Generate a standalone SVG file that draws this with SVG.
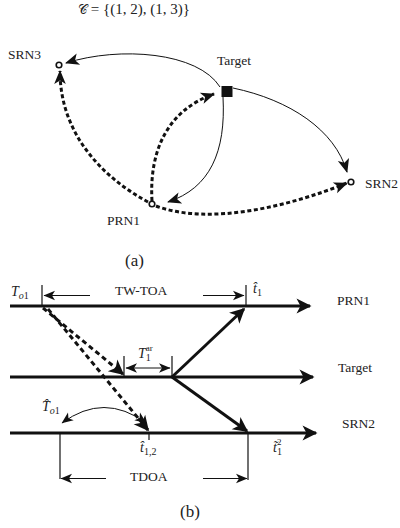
<svg xmlns="http://www.w3.org/2000/svg" width="400" height="528" viewBox="0 0 400 528">
<defs>
<style>
text{font-family:'Liberation Serif','Times New Roman',serif;fill:#222;}
.lbl{font-family:'Liberation Serif','Times New Roman',serif;font-size:13.5px;}
.m{font-family:'Liberation Serif','Times New Roman',serif;font-size:14px;font-style:italic;}
.sub{font-size:10px;}
.thin{fill:none;stroke:#111;stroke-width:1;}
.dot{fill:none;stroke:#111;stroke-width:3;stroke-dasharray:4 2.6;}
.dash{fill:none;stroke:#111;stroke-width:3;stroke-dasharray:5 3.5;}
.thick{fill:none;stroke:#111;stroke-width:3;}
.tick{fill:none;stroke:#111;stroke-width:1.2;}
.node{fill:#fff;stroke:#111;stroke-width:1.6;}
</style>
<marker id="ah" viewBox="-16 -8 18 16" refX="0" refY="0" markerWidth="18" markerHeight="16" markerUnits="userSpaceOnUse" orient="auto">
<path d="M1.5,0 L-13.5,-7.5 L-9.5,0 L-13.5,7.5 Z" fill="#111"/>
</marker>
<marker id="am" viewBox="-15 -7 17 14" refX="0" refY="0" markerWidth="17" markerHeight="14" markerUnits="userSpaceOnUse" orient="auto">
<path d="M1,0 L-13,-5.8 L-9.5,0 L-13,5.8 Z" fill="#111"/>
</marker>
<marker id="as" viewBox="-13 -6 14 12" refX="0" refY="0" markerWidth="14" markerHeight="12" markerUnits="userSpaceOnUse" orient="auto-start-reverse">
<path d="M0.5,0 L-11,-4.8 L-8,0 L-11,4.8 Z" fill="#111"/>
</marker>
</defs>
<rect width="400" height="528" fill="#fff"/>

<text x="78" y="14" style="font-size:15px"><tspan style="font-family:'DejaVu Serif',serif;font-size:13px">𝒞</tspan> = {(1, 2), (1, 3)}</text>

<!-- (a) connectors -->
<g id="connectors-a">
<path class="thin" d="M220,87 C198,52 120,46 66,63" marker-end="url(#am)"/>
<path class="thin" d="M233,88 C290,100 335,130 347,172" marker-end="url(#am)"/>
<path class="thin" d="M223,97 C226,152 210,188 168,202" marker-end="url(#am)"/>
<path class="dot" d="M152,201 C149,150 168,110 214,94" marker-end="url(#am)"/>
<path class="dot" d="M148,202 C100,176 60,132 60,71" marker-end="url(#am)"/>
<path class="dot" d="M156,206 C210,226 290,206 347,183" marker-end="url(#am)"/>
</g>

<g id="node-srn3">
<circle class="node" cx="59" cy="65" r="2.8"/>
<text class="lbl" x="8" y="59">SRN3</text>
</g>
<g id="node-target">
<rect x="221.5" y="86" width="11" height="11" fill="#111"/>
<text class="lbl" x="217" y="65">Target</text>
</g>
<g id="node-srn2">
<circle class="node" cx="351" cy="182" r="2.8"/>
<text class="lbl" x="365" y="188">SRN2</text>
</g>
<g id="node-prn1">
<circle class="node" cx="152" cy="204" r="2.8"/>
<text class="lbl" x="107" y="225">PRN1</text>
</g>
<text x="125" y="266" style="font-size:17px">(a)</text>

<!-- (b) -->
<g id="timelines">
<line class="thick" x1="10" y1="306" x2="310" y2="306" marker-end="url(#ah)"/>
<line class="thick" x1="10" y1="377" x2="313" y2="377" marker-end="url(#ah)"/>
<line class="thick" x1="10" y1="433" x2="316" y2="433" marker-end="url(#ah)"/>
<text class="lbl" x="337" y="305">PRN1</text>
<text class="lbl" x="338" y="372">Target</text>
<text class="lbl" x="342" y="428">SRN2</text>
</g>

<g id="connectors-b">
<line class="dash" x1="43" y1="308" x2="123" y2="374" marker-end="url(#ah)"/>
<line class="dash" x1="48" y1="309" x2="148" y2="430" marker-end="url(#ah)"/>
<line class="thick" x1="172" y1="377" x2="244" y2="309" marker-end="url(#ah)"/>
<line class="thick" x1="172" y1="377" x2="247" y2="431" marker-end="url(#ah)"/>
</g>

<g id="dimensions">
<line class="tick" x1="42" y1="285" x2="42" y2="306"/>
<line class="tick" x1="246" y1="285" x2="246" y2="306"/>
<line class="thin" x1="90" y1="295.5" x2="44" y2="295.5" marker-end="url(#as)"/>
<line class="thin" x1="203" y1="295.5" x2="244" y2="295.5" marker-end="url(#as)"/>
<text class="lbl" x="115" y="295">TW-TOA</text>

<line class="tick" x1="124" y1="356" x2="124" y2="377"/>
<line class="tick" x1="172" y1="356" x2="172" y2="377"/>
<line class="thin" x1="126" y1="368" x2="170" y2="368" marker-start="url(#as)" marker-end="url(#as)"/>

<line class="tick" x1="60" y1="433" x2="60" y2="479"/>
<line class="tick" x1="149" y1="433" x2="149" y2="440"/>
<line class="tick" x1="248" y1="433" x2="248" y2="480"/>
<line class="thin" x1="106" y1="478.5" x2="61" y2="478.5" marker-end="url(#as)"/>
<line class="thin" x1="203" y1="478.5" x2="247" y2="478.5" marker-end="url(#as)"/>
<text class="lbl" x="130" y="481">TDOA</text>

<path class="thin" d="M62,423 Q104,392 146,423" marker-start="url(#as)" marker-end="url(#as)"/>
</g>

<g id="math-labels">
<text class="m" x="11" y="296">T<tspan class="sub" dy="3">o</tspan><tspan class="sub" style="font-style:normal">1</tspan></text>
<text class="m" x="253" y="293">t̂<tspan class="sub" dy="3" style="font-style:normal">1</tspan></text>
<text class="m" x="138" y="358">T<tspan style="font-size:9px;font-style:normal" dy="-7">ar</tspan><tspan class="sub" style="font-style:normal" dx="-7" dy="10">1</tspan></text>
<text class="m" x="42" y="411">T̂<tspan class="sub" dy="3">o</tspan><tspan class="sub" style="font-style:normal">1</tspan></text>
<text class="m" x="140" y="452">t̂<tspan class="sub" dy="3" style="font-style:normal">1,2</tspan></text>
<text class="m" x="273" y="452">t̃<tspan style="font-size:9px;font-style:normal" dy="-7">2</tspan><tspan class="sub" style="font-style:normal" dx="-4.5" dy="10">1</tspan></text>
</g>
<text x="180" y="517" style="font-size:17px">(b)</text>
</svg>
